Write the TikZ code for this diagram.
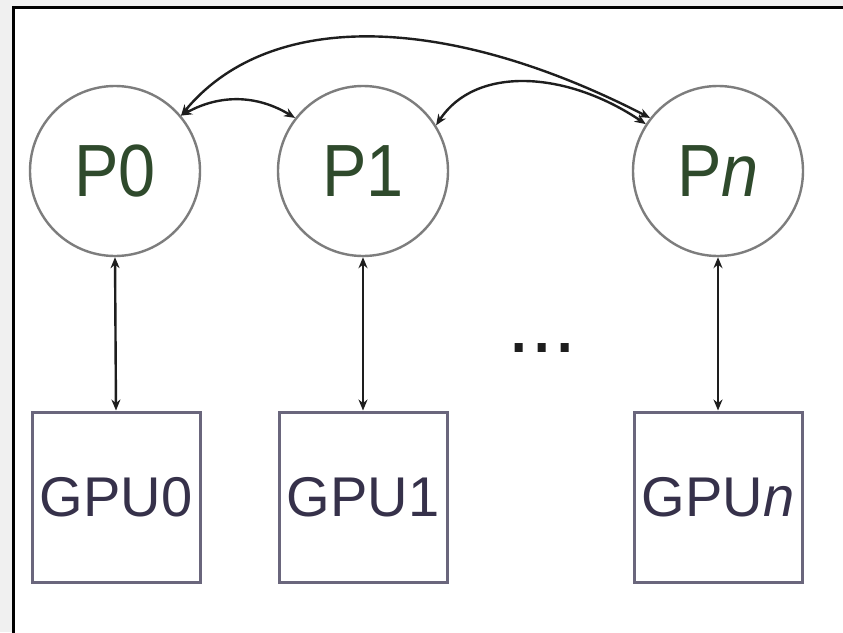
\documentclass[tikz,border=0pt]{standalone}
\usepackage{fontspec}
\setmainfont{Liberation Sans}
\newfontfamily\pfont[FakeStretch=0.9]{Liberation Sans}
\usetikzlibrary{arrows.meta}
\definecolor{bggray}{HTML}{F0F0F0}
\definecolor{pgreen}{HTML}{2F4A2C}
\definecolor{gpucol}{HTML}{36314A}
\definecolor{circlecol}{HTML}{7D7D7D}
\definecolor{boxcol}{HTML}{6A667C}
\definecolor{arrowcol}{HTML}{1E1E1E}
\tikzset{
  proc/.style={circle, draw=circlecol, line width=2.4pt, fill=white, minimum size=170pt, inner sep=0pt,
    text=pgreen, font=\pfont\fontsize{74}{74}\selectfont},
  gpubox/.style={rectangle, draw=boxcol, line width=3pt, fill=white, minimum width=168pt, minimum height=170pt, inner sep=0pt,
    text=gpucol, font=\fontsize{56}{56}\selectfont},
  link/.style={draw=arrowcol, line width=2.4pt, {Stealth[length=11pt,width=9pt]}-{Stealth[length=11pt,width=9pt]}}
}
\begin{document}
\begin{tikzpicture}[x=1pt,y=1pt]
\useasboundingbox (0,0) rectangle (843,-632);
\clip (0,0) rectangle (843,-632);
\fill[bggray] (0,0) rectangle (843,-632);
\draw[fill=white, line width=3pt, draw=black] (13,-7) rectangle (860,-650);

\node[proc] (P0) at (115,-171) {P0};
\node[proc] (P1) at (363,-171) {P1};
\node[proc] (Pn) at (718,-171) {P\textit{n}};

\node[gpubox] (G0) at (116,-497) {GPU0};
\node[gpubox] (G1) at (363,-497) {GPU1};
\node[gpubox] (Gn) at (718,-497) {GPU\textit{n}};

\node[anchor=base, inner sep=0pt, text=arrowcol, font=\fontsize{84}{84}\selectfont] (dots) at (542,-352) {...};

\draw[link] (P0.south) -- (G0.north);
\draw[link] (P1.south) -- (G1.north);
\draw[link] (Pn.south) -- (Gn.north);

\draw[link] (P0.40) to[bend left=30] (P1.142);
\draw[link] (P0.40) .. controls (270,-8) and (448,-14) .. (Pn.142);
\draw[link] (P1.32) .. controls (475,-66) and (565,-70) .. (Pn.147);
\end{tikzpicture}
\end{document}
